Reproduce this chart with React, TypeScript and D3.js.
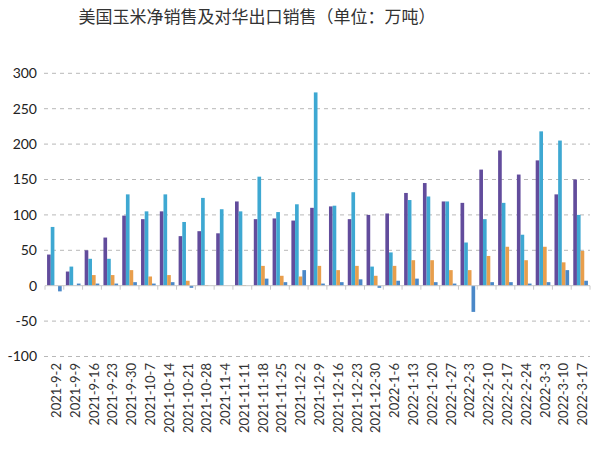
import React from "react";
import * as d3 from "d3";

const categories = [
  "2021-9-2", "2021-9-9", "2021-9-16", "2021-9-23", "2021-9-30", "2021-10-7", "2021-10-14",
  "2021-10-21", "2021-10-28", "2021-11-4", "2021-11-11", "2021-11-18", "2021-11-25", "2021-12-2",
  "2021-12-9", "2021-12-16", "2021-12-23", "2021-12-30", "2022-1-6", "2022-1-13", "2022-1-20",
  "2022-1-27", "2022-2-3", "2022-2-10", "2022-2-17", "2022-2-24", "2022-3-3", "2022-3-10", "2022-3-17",
];

const seriesPurple = [44, 20, 50, 68, 99, 94, 105, 70, 77, 74, 119, 94, 95, 92, 110, 112, 94, 100, 102, 131, 145, 119, 117, 164, 191, 157, 177, 129, 150];
const seriesCyan = [83, 27, 38, 38, 129, 105, 129, 90, 124, 108, 105, 154, 104, 115, 273, 113, 132, 27, 47, 121, 126, 119, 61, 94, 117, 72, 218, 205, 100];
const seriesOrange = [0, 0, 15, 15, 22, 13, 15, 7, 1, 0, 1, 28, 14, 13, 28, 22, 28, 14, 28, 36, 36, 22, 22, 42, 55, 36, 55, 33, 49];
const seriesBlue = [-8, 3, 3, 3, 5, 3, 5, -3, 0, 0, 0, 10, 5, 22, 3, 5, 9, -3, 7, 10, 5, 3, -37, 5, 5, 3, 5, 22, 7];

const yTicks = [-100, -50, 0, 50, 100, 150, 200, 250, 300];
const title = "美国玉米净销售及对华出口销售（单位：万吨）";

const seriesList = [
  { key: "purple", values: seriesPurple, color: "#624c9c" },
  { key: "cyan", values: seriesCyan, color: "#3ea8d2" },
  { key: "orange", values: seriesOrange, color: "#e89e4c" },
  { key: "blue", values: seriesBlue, color: "#4a88c8" },
];

const W = 593;
const H = 453;

export default function App() {
  const x = d3.scaleBand<string>().domain(categories).range([45, 590]).paddingInner(0.22).paddingOuter(0.11);
  const xs = d3.scaleBand<string>().domain(seriesList.map((s) => s.key)).range([0, x.bandwidth()]).padding(0);
  const y = d3.scaleLinear().domain([-100, 300]).range([356.5, 73.3]);
  const step = x.step();

  return (
    <svg width={W} height={H} style={{ position: "absolute", left: 0, top: 0, background: "#fff" }}>
      <rect x={0} y={0} width={W} height={H} fill="#ffffff" />
      <text x={257} y={23} textAnchor="middle" fontSize={17} fill="#333"
        fontFamily="'Noto Sans CJK SC', sans-serif">{title}</text>
      {yTicks.map((t) => (
        <g key={t}>
          {t !== 0 && (
            <line x1={44} x2={590} y1={y(t)} y2={y(t)} stroke="#b8b8b8" strokeWidth={1} strokeDasharray="4,4" />
          )}
          <text x={37} y={y(t)} dy="0.35em" textAnchor="end" fontSize={14} fill="#222"
            fontFamily="Lato, 'Liberation Sans', sans-serif">{t}</text>
        </g>
      ))}
      {categories.map((c, i) => (
        <g key={c}>
          {seriesList.map((s) => {
            const v = s.values[i];
            const y0 = y(0);
            const yv = y(v);
            return (
              <rect key={s.key} x={(x(c) as number) + (xs(s.key) as number)} width={xs.bandwidth()}
                y={Math.min(y0, yv)} height={Math.abs(yv - y0)} fill={s.color} />
            );
          })}
        </g>
      ))}
      <line x1={45} x2={590} y1={y(0)} y2={y(0)} stroke="#c8c8c8" strokeWidth={1} />
      {d3.range(categories.length + 1).map((i) => (
        <line key={i} x1={45 + i * step} x2={45 + i * step} y1={y(0)} y2={y(0) + 4} stroke="#c8c8c8" strokeWidth={1} />
      ))}
      {categories.map((c) => {
        const cx = (x(c) as number) + x.bandwidth() / 2 + 2;
        return (
          <text key={c} transform={`translate(${cx},363) rotate(-90)`} textAnchor="end" dy="0.35em"
            fontSize={13} fill="#333" fontFamily="Lato, 'Liberation Sans', sans-serif">{c}</text>
        );
      })}
    </svg>
  );
}
